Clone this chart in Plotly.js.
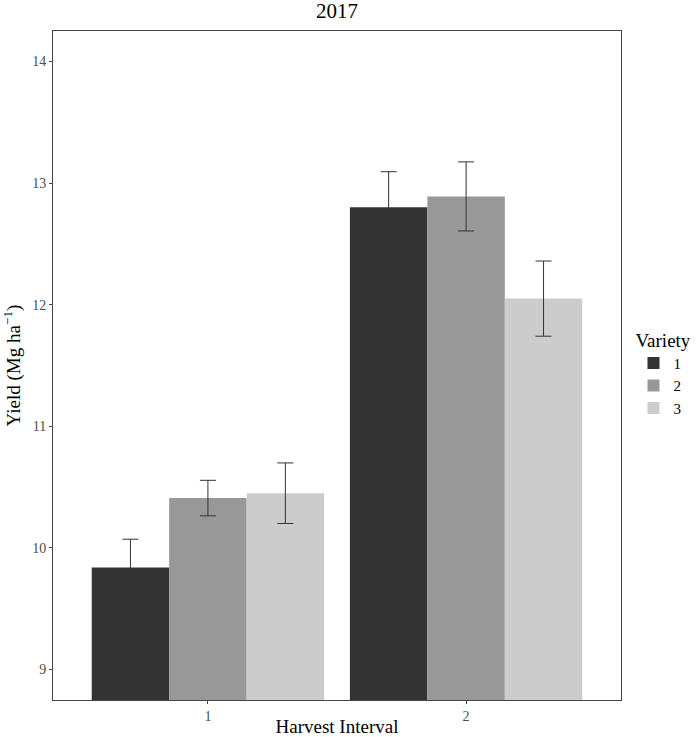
<!DOCTYPE html>
<html>
<head>
<meta charset="utf-8">
<script src="https://cdn.plot.ly/plotly-3.0.1.min.js"></script>
<style>html,body{margin:0;padding:0;background:#fff;}#chart{width:698px;height:737px;}</style>
</head>
<body>
<div id="chart"></div>
<script>
const intervals = ["1", "2"];
const varieties = ["1", "2", "3"];
const yieldVar1 = [9.84, 12.80];
const yieldVar2 = [10.41, 12.89];
const yieldVar3 = [10.45, 12.05];
const seVar1 = [0.232, 0.293];
const seVar2 = [0.146, 0.284];
const seVar3 = [0.249, 0.309];
const colors = ["#333333", "#989898", "#CCCCCC"];

const yields = [yieldVar1, yieldVar2, yieldVar3];
const ses = [seVar1, seVar2, seVar3];

const traces = varieties.map((v, i) => ({
  type: "bar",
  name: v,
  x: intervals,
  y: yields[i],
  marker: {color: colors[i], line: {width: 0}},
  error_y: {type: "data", array: ses[i], visible: true, color: "#333333", thickness: 1, width: 8},
  hoverinfo: "none"
}));

const layout = {
  width: 698, height: 737,
  margin: {l: 53, r: 77, t: 31, b: 37, autoexpand: false},
  paper_bgcolor: "#ffffff", plot_bgcolor: "#ffffff",
  font: {family: "Liberation Serif, Times New Roman, serif", color: "#000"},
  title: {text: "2017", font: {size: 21, color: "#000"}, x: 0.5, xref: "paper", y: 0.985, yanchor: "middle"},
  barmode: "group", bargap: 0.1, bargroupgap: 0,
  xaxis: {
    type: "category", range: [-0.6, 1.6],
    showline: true, mirror: true, linecolor: "#444444", linewidth: 1,
    ticks: "outside", ticklen: 3, tickcolor: "#444444",
    tickfont: {size: 14, color: "#4d4d4d"},
    showgrid: false, zeroline: false,
    title: {text: "Harvest Interval", font: {size: 19, color: "#000"}, standoff: 4}
  },
  yaxis: {
    range: [8.75, 14.25],
    tickvals: [9, 10, 11, 12, 13, 14],
    showline: true, mirror: true, linecolor: "#444444", linewidth: 1,
    ticks: "outside", ticklen: 3, tickcolor: "#444444",
    tickfont: {size: 14, color: "#4d4d4d"},
    showgrid: false, zeroline: false,
    title: {text: "Yield (Mg ha<sup>\u22121</sup>)", font: {size: 19, color: "#000"}, standoff: 8}
  },
  showlegend: true,
  legend: {
    x: 1.022, xanchor: "left", y: 0.565, yanchor: "top",
    title: {text: "Variety", font: {size: 19, color: "#000"}},
    font: {size: 15, color: "#000"},
    bgcolor: "rgba(0,0,0,0)", tracegroupgap: 0, itemwidth: 30
  }
};

Plotly.newPlot("chart", traces, layout, {displayModeBar: false, staticPlot: true});
</script>
</body>
</html>
